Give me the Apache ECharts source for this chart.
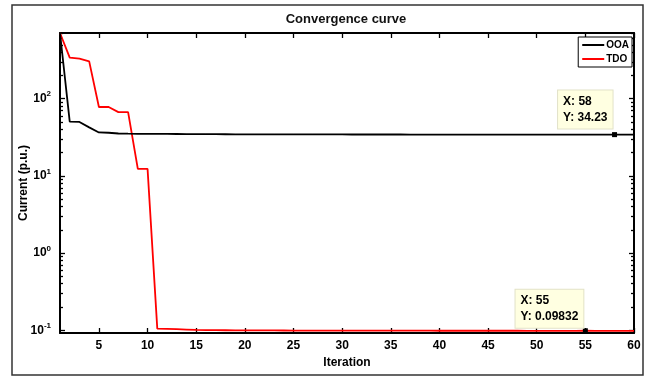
<!DOCTYPE html>
<html>
<head>
<meta charset="utf-8">
<script src="https://cdn.jsdelivr.net/npm/echarts@6/dist/echarts.min.js"></script>
<style>
  html, body { margin: 0; padding: 0; background: #fff; }
  #main { width: 653px; height: 376px; }
</style>
</head>
<body>
<div id="main"></div>
<script>
// iteration index 1..60
var iterations = [
  1, 2, 3, 4, 5, 6, 7, 8, 9, 10,
  11, 12, 13, 14, 15, 16, 17, 18, 19, 20,
  21, 22, 23, 24, 25, 26, 27, 28, 29, 30,
  31, 32, 33, 34, 35, 36, 37, 38, 39, 40,
  41, 42, 43, 44, 45, 46, 47, 48, 49, 50,
  51, 52, 53, 54, 55, 56, 57, 58, 59, 60
];
var ooaValues = [
  710, 50.5, 50, 42.5, 36.5, 36.2, 35.4, 35.2, 35.1, 35.0,
  34.95, 34.9, 34.85, 34.8, 34.75, 34.7, 34.66, 34.62, 34.58, 34.55,
  34.52, 34.5, 34.48, 34.46, 34.45, 34.44, 34.42, 34.41, 34.4, 34.39,
  34.38, 34.37, 34.36, 34.35, 34.34, 34.33, 34.32, 34.31, 34.3, 34.3,
  34.29, 34.29, 34.28, 34.28, 34.27, 34.27, 34.26, 34.26, 34.25, 34.25,
  34.25, 34.24, 34.24, 34.24, 34.24, 34.23, 34.23, 34.23, 34.23, 34.23
];
var tdoValues = [
  710, 340, 330, 305, 78, 78, 67, 67, 12.3, 12.3,
  0.105, 0.104, 0.103, 0.102, 0.101, 0.1005, 0.1, 0.0998, 0.0996, 0.0995,
  0.0994, 0.0993, 0.0992, 0.0991, 0.099, 0.099, 0.0989, 0.0989, 0.0988, 0.0988,
  0.0987, 0.0987, 0.0986, 0.0986, 0.0986, 0.0985, 0.0985, 0.0985, 0.0985, 0.0984,
  0.0984, 0.0984, 0.0984, 0.0984, 0.0984, 0.0984, 0.0984, 0.0984, 0.0983, 0.0983,
  0.0983, 0.0983, 0.0983, 0.0983, 0.09832, 0.0983, 0.0983, 0.0983, 0.0983, 0.0983
];
var xTicks = [5, 10, 15, 20, 25, 30, 35, 40, 45, 50, 55, 60];
var yMajor = [0.1, 1, 10, 100];
var yMinor = [
  0.2, 0.3, 0.4, 0.5, 0.6, 0.7, 0.8, 0.9,
  2, 3, 4, 5, 6, 7, 8, 9,
  20, 30, 40, 50, 60, 70, 80, 90,
  200, 300, 400, 500, 600, 700
];
// data tips: [x, y]
var ooaTip = [58, 34.23];
var tdoTip = [55, 0.09832];

var FONT = '"Liberation Sans", Arial, sans-serif';

function pairs(ys) {
  return iterations.map(function (x, i) { return [x, ys[i]]; });
}

function tipLabel(pt, pos) {
  return {
    show: true,
    position: pos,
    align: 'right',
    verticalAlign: 'bottom',
    formatter: '{t|X: ' + pt[0] + '}\n{t|Y: ' + pt[1] + '}',
    rich: {
      t: { fontFamily: FONT, fontWeight: 'bold', fontSize: 12, lineHeight: 16, color: '#000', align: 'left' }
    },
    backgroundColor: '#ffffe1',
    borderColor: '#e2e2c8',
    borderWidth: 1,
    padding: [3, 5, 3, 5]
  };
}

var axisLineStyle = { color: '#000', width: 2 };

function yAxisDef(pos, ticks, len, withLine, withLabel) {
  return {
    type: 'log',
    position: pos,
    min: 0.092,
    max: 710,
    axisLine: { show: withLine, lineStyle: axisLineStyle },
    axisTick: { show: true, inside: true, length: len, customValues: ticks,
      lineStyle: { color: '#000', width: 1.3 } },
    axisLabel: withLabel ? {
      customValues: yMajor,
      margin: 9,
      formatter: function (v) {
        var e = Math.round(Math.log10(v));
        return '{b|10}{e|' + e + '}';
      },
      rich: {
        b: { fontFamily: FONT, fontWeight: 'bold', fontSize: 12, color: '#000' },
        e: { fontFamily: FONT, fontWeight: 'bold', fontSize: 8, color: '#000', padding: [0, 0, 9, 0] }
      }
    } : { show: false },
    splitLine: { show: false },
    name: withLabel ? 'Current (p.u.)' : '',
    nameLocation: 'middle',
    nameGap: 30,
    nameRotate: 90,
    nameMoveOverlap: false,
    nameTextStyle: { fontFamily: FONT, fontWeight: 'bold', fontSize: 12, color: '#000' }
  };
}

var chart = echarts.init(document.getElementById('main'), null, { renderer: 'canvas' });

var option = {
  backgroundColor: '#fff',
  animation: false,
  title: {
    text: 'Convergence curve',
    left: 341,
    top: 8,
    textAlign: 'center',
    textStyle: { fontFamily: FONT, fontWeight: 'bold', fontSize: 13, color: '#111' }
  },
  graphic: [{
    type: 'rect',
    shape: { x: 12, y: 5, width: 631, height: 370 },
    style: { fill: 'none', stroke: '#333', lineWidth: 1.5 },
    z: -1
  }],
  legend: {
    right: 21,
    top: 37,
    orient: 'vertical',
    icon: 'rect',
    itemWidth: 22,
    itemHeight: 2,
    itemGap: 2,
    padding: [2, 3, 2, 4],
    backgroundColor: '#fff',
    borderColor: '#000',
    borderWidth: 1,
    textStyle: { fontFamily: FONT, fontWeight: 'bold', fontSize: 10, lineHeight: 12, color: '#000', padding: [0, 0, 0, -3] },
    data: ['OOA', 'TDO']
  },
  grid: { left: 60, right: 19, top: 33, bottom: 43 },
  xAxis: [{
    type: 'value',
    position: 'bottom',
    min: 1,
    max: 60,
    axisLine: { lineStyle: axisLineStyle },
    axisTick: { inside: true, length: 5, customValues: xTicks, lineStyle: { color: '#000', width: 1.3 } },
    axisLabel: { customValues: xTicks, margin: 7, fontFamily: FONT, fontWeight: 'bold', fontSize: 12, color: '#000' },
    splitLine: { show: false },
    name: 'Iteration',
    nameLocation: 'middle',
    nameGap: 21,
    nameTextStyle: { fontFamily: FONT, fontWeight: 'bold', fontSize: 12, color: '#000' }
  }, {
    type: 'value',
    position: 'top',
    min: 1,
    max: 60,
    axisLine: { lineStyle: axisLineStyle },
    axisTick: { inside: true, length: 5, customValues: xTicks, lineStyle: { color: '#000', width: 1.3 } },
    axisLabel: { show: false },
    splitLine: { show: false }
  }],
  yAxis: [
    yAxisDef('left', yMajor, 5, true, true),
    yAxisDef('left', yMinor, 3, false, false),
    yAxisDef('right', yMajor, 5, true, false),
    yAxisDef('right', yMinor, 3, false, false)
  ],
  series: [{
    name: 'OOA',
    type: 'line',
    xAxisIndex: 0,
    yAxisIndex: 0,
    symbol: 'none',
    lineStyle: { color: '#000', width: 1.8 },
    itemStyle: { color: '#000' },
    data: pairs(ooaValues),
    markPoint: {
      symbol: 'rect',
      symbolSize: 5,
      itemStyle: { color: '#000' },
      label: tipLabel(ooaTip, [0.5, -3.5]),
      data: [{ coord: ooaTip }]
    },
    z: 3
  }, {
    name: 'TDO',
    type: 'line',
    xAxisIndex: 0,
    yAxisIndex: 0,
    symbol: 'none',
    lineStyle: { color: '#ff0000', width: 1.8 },
    itemStyle: { color: '#ff0000' },
    data: pairs(tdoValues),
    markPoint: {
      symbol: 'rect',
      symbolSize: 5,
      itemStyle: { color: '#000' },
      label: tipLabel(tdoTip, [0.5, -0.5]),
      data: [{ coord: tdoTip }]
    },
    z: 2
  }]
};

chart.setOption(option);
</script>
</body>
</html>
